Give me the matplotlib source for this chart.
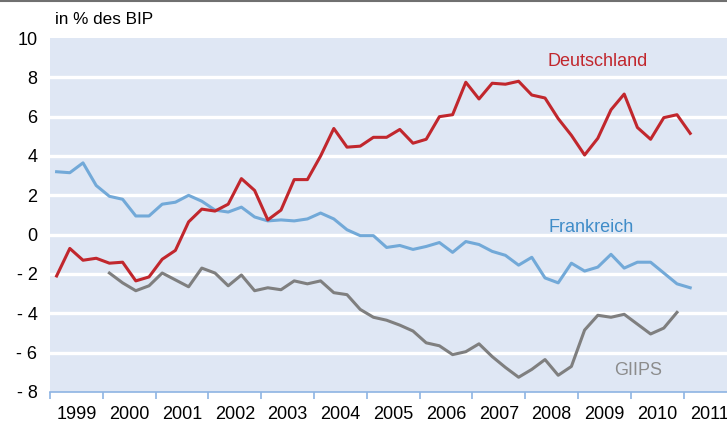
import numpy as np
import matplotlib.pyplot as plt

plt.rcParams['font.family'] = ['Liberation Sans', 'DejaVu Sans']

# Quartalswerte, Leistungsbilanzsaldo in % des BIP
deutschland = [-2.1, -0.7, -1.3, -1.2,
               -1.45, -1.4, -2.35, -2.15,
               -1.25, -0.8, 0.65, 1.3,
               1.2, 1.55, 2.85, 2.25,
               0.75, 1.25, 2.8, 2.8,
               4.0, 5.4, 4.45, 4.5,
               4.95, 4.95, 5.35, 4.65,
               4.85, 6.0, 6.1, 7.75,
               6.9, 7.7, 7.65, 7.8,
               7.1, 6.95, 5.9, 5.05,
               4.05, 4.9, 6.35, 7.15,
               5.45, 4.85, 5.95, 6.1,
               5.15]
frankreich = [3.2, 3.15, 3.65, 2.5,
              1.95, 1.8, 0.95, 0.95,
              1.55, 1.65, 2.0, 1.7,
              1.25, 1.15, 1.4, 0.9,
              0.7, 0.75, 0.7, 0.8,
              1.1, 0.8, 0.25, -0.05,
              -0.05, -0.65, -0.55, -0.75,
              -0.6, -0.4, -0.9, -0.35,
              -0.5, -0.85, -1.05, -1.55,
              -1.15, -2.2, -2.45, -1.45,
              -1.85, -1.65, -1.0, -1.7,
              -1.4, -1.4, -1.95, -2.5,
              -2.7]
giips = [-1.95, -2.45, -2.85, -2.6,
         -1.95, -2.3, -2.65, -1.7,
         -1.95, -2.6, -2.05, -2.85,
         -2.7, -2.8, -2.35, -2.5,
         -2.35, -2.95, -3.05, -3.8,
         -4.2, -4.35, -4.6, -4.9,
         -5.5, -5.65, -6.1, -5.95,
         -5.55, -6.2, -6.75, -7.25,
         -6.85, -6.35, -7.15, -6.7,
         -4.85, -4.1, -4.2, -4.05,
         -4.55, -5.05, -4.75, -3.95]
jahre = list(range(1999, 2012))
yticks = [-8, -6, -4, -2, 0, 2, 4, 6, 8, 10]

# Quartalsmitte als x-Position
x_de = 1999 + (np.arange(len(deutschland)) + 0.5) / 4
x_fr = 1999 + (np.arange(len(frankreich)) + 0.5) / 4
x_gi = 2000 + (np.arange(len(giips)) + 0.5) / 4

rot = '#c1272d'
blau = '#72a9d8'
grau = '#7f7f7f'
fs = 13

fig = plt.figure(figsize=(7.27, 4.25), dpi=100)
ax = fig.add_axes([50 / 727, 1 - 392 / 425, 677 / 727, 354 / 425])
ax.set_facecolor('#dfe7f4')

ax.plot(x_fr, frankreich, color=blau, lw=2.2, zorder=3)
ax.plot(x_gi, giips, color=grau, lw=2.2, zorder=3)
ax.plot(x_de, deutschland, color=rot, lw=2.2, zorder=4)

ax.set_xlim(1999, 1999 + 677 / 52.8)
ax.set_ylim(-8, 10)
for v in yticks[1:-1]:
    ax.axhline(v, color='white', lw=2.4, zorder=1)

for s in ['top', 'right', 'left']:
    ax.spines[s].set_visible(False)
ax.spines['bottom'].set_color('#8eb4e3')
ax.spines['bottom'].set_linewidth(1.2)

ax.set_yticks(yticks)
ax.set_yticklabels([str(v) if v >= 0 else '- %d' % -v for v in yticks], fontsize=fs)
ax.tick_params(axis='y', length=0, pad=9)

ax.set_xticks(jahre)
ax.set_xticklabels([])
ax.tick_params(axis='x', which='major', direction='out', length=5, color='#8eb4e3', width=1.2)
ax.set_xticks([j + 0.5 for j in jahre], minor=True)
ax.set_xticklabels([str(j) for j in jahre], minor=True, fontsize=fs)
ax.tick_params(axis='x', which='minor', length=0, pad=10)

ax.text(2009.38, 8.8, 'Deutschland', color=rot, fontsize=fs, ha='center', va='center')
ax.text(2009.25, 0.36, 'Frankreich', color='#3f8cc8', fontsize=fs, ha='center', va='center')
ax.text(2010.13, -6.9, 'GIIPS', color='#8c8c8c', fontsize=fs, ha='center', va='center')

fig.text(55 / 727, 1 - 20 / 425, 'in % des BIP', fontsize=12.3, va='center')
fig.add_artist(plt.Line2D([0, 1], [0.997, 0.997], color='#707070', lw=1.5))

fig.savefig('out.png', dpi=100)
